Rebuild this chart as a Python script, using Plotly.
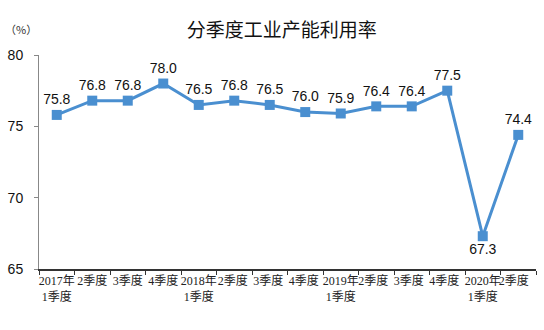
import plotly.graph_objects as go

categories = ["2017年<br>1季度", "2季度", "3季度", "4季度",
              "2018年<br>1季度", "2季度 ", "3季度 ", "4季度 ",
              "2019年<br>1季度", "2季度  ", "3季度  ", "4季度  ",
              "2020年<br>1季度", "2季度   "]
values = [75.8, 76.8, 76.8, 78.0, 76.5, 76.8, 76.5, 76.0, 75.9, 76.4, 76.4, 77.5, 67.3, 74.4]
value_labels = ["75.8", "76.8", "76.8", "78.0", "76.5", "76.8", "76.5", "76.0", "75.9", "76.4", "76.4", "77.5", "67.3", "74.4"]
y_ticks = [65, 70, 75, 80]

positions = ["top center"] * len(values)
positions[12] = "bottom center"

fig = go.Figure(go.Scatter(
    x=categories, y=values, mode="lines+markers+text",
    text=value_labels, textposition=positions,
    textfont=dict(family="Liberation Sans, Arial", size=14, color="#111"),
    line=dict(color="#4a8fd0", width=3),
    marker=dict(symbol="square", size=10, color="#4a8fd0"),
    cliponaxis=False,
))

fig.update_layout(
    width=544, height=330,
    margin=dict(l=39, r=6, t=55, b=61),
    paper_bgcolor="white", plot_bgcolor="white",
    showlegend=False,
    title=dict(text="分季度工业产能利用率", x=0.518, xanchor="center", y=0.909, yanchor="middle",
               font=dict(family="Noto Sans CJK SC", size=19, color="#111")),
    xaxis=dict(type="category", range=[-0.5, len(categories) - 0.5],
               showline=True, linecolor="#333", linewidth=1.5,
               ticks="outside", tickson="boundaries", ticklen=4, tickcolor="#333",
               tickfont=dict(family="Liberation Serif, Noto Sans CJK SC", size=12, color="#222"),
               showgrid=False, tickangle=0),
    yaxis=dict(range=[65, 80], tickvals=y_ticks, showline=True, linecolor="#888", linewidth=1,
               ticks="outside", ticklen=4, tickcolor="#888", showgrid=False, zeroline=False,
               ticklabelstandoff=8,
               tickfont=dict(family="Liberation Sans, Arial", size=14, color="#111")),
    annotations=[dict(text="（%）", xref="paper", yref="paper", x=-0.072, y=1.075,
                      xanchor="left", yanchor="bottom", showarrow=False,
                      font=dict(family="Noto Sans CJK SC", size=11, color="#333"))],
)

fig.write_html("out.html")
